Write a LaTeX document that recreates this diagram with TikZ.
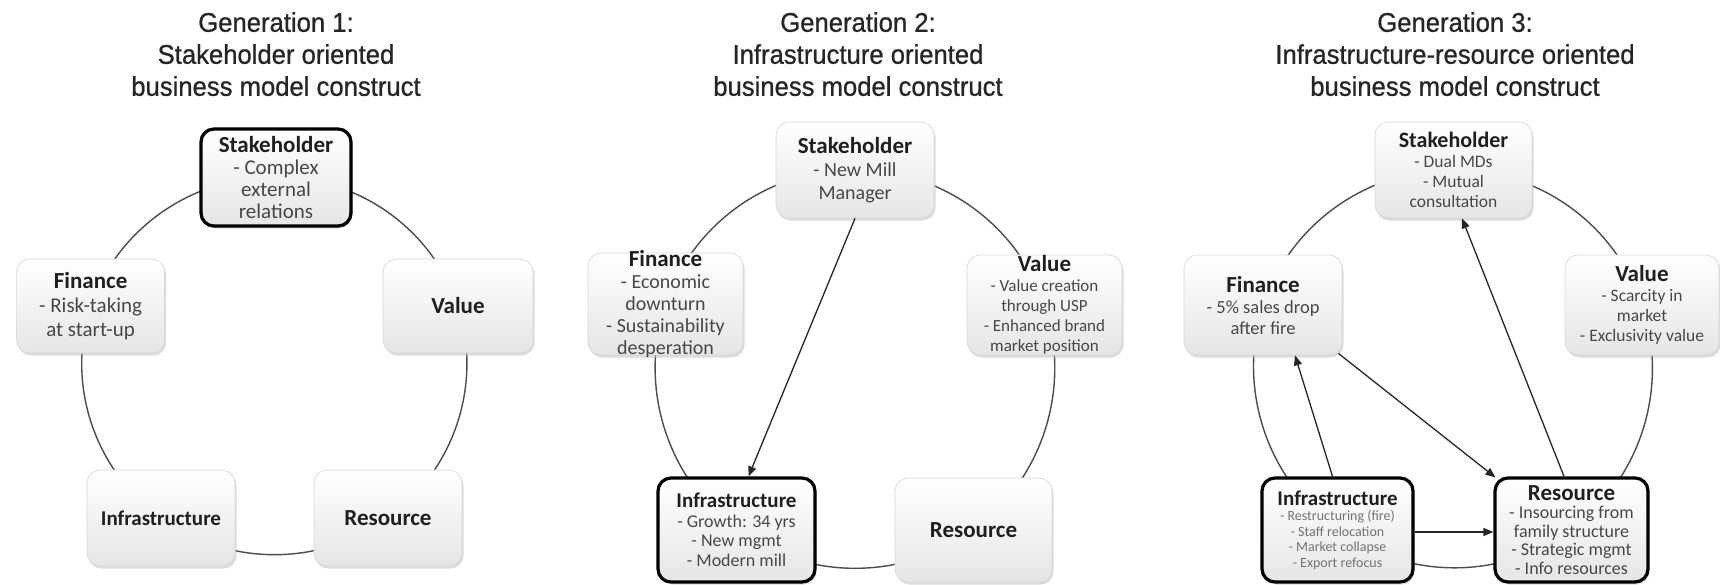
\documentclass[tikz,border=0pt]{standalone}
\usepackage{fontspec}
\setmainfont{Carlito}
\newfontfamily\titlefont[FakeStretch=0.95,FakeBold=0.8]{Liberation Sans}
\usetikzlibrary{shadows,backgrounds,arrows.meta}

\newcommand\bxhead[2]{{\fontsize{#1}{#1}\selectfont\bfseries\color{black!88}#2}}

\begin{document}
\begin{tikzpicture}[x=1pt,y=-1pt,
 box/.style={rectangle, rounded corners=13pt, draw=gray!30, line width=0.7pt,
   top color=white, bottom color=gray!20,
   drop shadow={shadow xshift=1.5pt, shadow yshift=-2.5pt, fill=gray!50, opacity=0.55},
   inner sep=0pt},
 keybox/.style={box, draw=black, line width=3.2pt},
 txt/.style={align=center, inner sep=0pt, text=black!72},
 ttl/.style={align=center, inner sep=0pt, anchor=north, text=black!85,
   font=\titlefont\fontsize{27}{32}\selectfont},
 ring/.style={draw=black!70, line width=1.4pt},
 arr/.style={draw=black!85, line width=1.3pt, -{Triangle[length=10pt,width=8pt]}},
]
\useasboundingbox (0,0) rectangle (1720,584);
\begin{scope}[on background layer]
\fill[white] (0,0) rectangle (1720,584);
\end{scope}

% ---------- Panel 1 ----------
\node[ttl] (t1) at (276,12) {Generation 1:\\Stakeholder oriented\\business model construct};
\node[keybox, minimum width=150pt, minimum height=97pt] (s1) at (276,177.5) {};
\node[txt, font=\fontsize{21}{22}\selectfont] (s1t) at (s1) {\bxhead{23}{Stakeholder}\\- Complex\\external\\relations};
\node[box, minimum width=148pt, minimum height=94pt] (f1) at (90.6,306) {};
\node[txt, font=\fontsize{21}{24}\selectfont] (f1t) at (f1) {\bxhead{23}{Finance}\\- Risk-taking\\at start-up};
\node[box, minimum width=150pt, minimum height=94pt] (v1) at (458,306) {};
\node[txt] (v1t) at (v1) {\bxhead{23}{Value}};
\node[box, minimum width=148pt, minimum height=96pt] (i1) at (161,518) {};
\node[txt] (i1t) at (i1) {\bxhead{21}{Infrastructure}};
\node[box, minimum width=148pt, minimum height=96pt] (r1) at (388,518) {};
\node[txt] (r1t) at (r1) {\bxhead{23}{Resource}};

% ---------- Panel 2 ----------
\node[ttl] (t2) at (858,12) {Generation 2:\\Infrastructure oriented\\business model construct};
\node[box, minimum width=158pt, minimum height=96pt] (s2) at (855,170) {};
\node[txt, font=\fontsize{20}{23}\selectfont] (s2t) at (s2) {\bxhead{23}{Stakeholder}\\- New Mill\\Manager};
\node[box, minimum width=155pt, minimum height=102pt] (f2) at (665.5,304) {};
\node[txt, font=\fontsize{20}{22}\selectfont] (f2t) at (f2) {\bxhead{23}{Finance}\\- Economic\\downturn\\- Sustainability\\desperation};
\node[box, minimum width=155pt, minimum height=100pt] (v2) at (1044.5,305) {};
\node[txt, font=\fontsize{17}{20}\selectfont] (v2t) at (v2) {\bxhead{23}{Value}\\- Value creation\\through USP\\- Enhanced brand\\market position};
\node[keybox, minimum width=157pt, minimum height=104pt] (i2) at (736.5,530) {};
\node[txt, font=\fontsize{18}{19.5}\selectfont] (i2t) at (i2) {\bxhead{21}{Infrastructure}\\- Growth: 34 yrs\\- New mgmt\\- Modern mill};
\node[box, minimum width=157pt, minimum height=104pt] (r2) at (973.5,530) {};
\node[txt] (r2t) at (r2) {\bxhead{23}{Resource}};

% ---------- Panel 3 ----------
\node[ttl] (t3) at (1455,12) {Generation 3:\\Infrastructure-resource oriented\\business model construct};
\node[box, minimum width=157pt, minimum height=96pt] (s3) at (1453.5,170) {};
\node[txt, font=\fontsize{17.5}{20}\selectfont] (s3t) at (s3) {\bxhead{22}{Stakeholder}\\- Dual MDs\\- Mutual\\consultation};
\node[box, minimum width=158pt, minimum height=100pt] (f3) at (1263,305) {};
\node[txt, font=\fontsize{18.5}{21}\selectfont] (f3t) at (f3) {\bxhead{23}{Finance}\\- 5\% sales drop\\after fire};
\node[box, minimum width=154pt, minimum height=100pt] (v3) at (1642,305) {};
\node[txt, font=\fontsize{17.5}{20}\selectfont] (v3t) at (v3) {\bxhead{23}{Value}\\- Scarcity in\\market\\- Exclusivity value};
\node[keybox, minimum width=151pt, minimum height=104pt] (i3) at (1337.5,530) {};
\node[txt, font=\fontsize{14}{15.5}\selectfont, text=black!55] (i3t) at (i3) {\bxhead{21}{Infrastructure}\\- Restructuring (fire)\\- Staff relocation\\- Market collapse\\- Export refocus};
\node[keybox, minimum width=153pt, minimum height=104pt] (r3) at (1571.5,530) {};
\node[txt, font=\fontsize{18}{18.5}\selectfont] (r3t) at (r3) {\bxhead{23}{Resource}\\- Insourcing from\\family structure\\- Strategic mgmt\\- Info resources};

% ---------- ring connectors ----------
\begin{scope}[on background layer]
\foreach \a/\b in {s1/f1,f1/i1,i1/r1,r1/v1,v1/s1,
                   s2/f2,f2/i2,i2/r2,r2/v2,v2/s2,
                   s3/f3,f3/i3,i3/r3,r3/v3,v3/s3}
  \draw[ring] (\a.center) to[bend right=36, looseness=0.94] (\b.center);
\end{scope}

% ---------- arrows ----------
\draw[arr] (s2.south) -- ([xshift=12pt]i2.north);
\draw[arr] ([xshift=-5pt]i3.north) -- ([xshift=32pt]f3.south);
\draw[arr] ([xshift=-4pt,yshift=2pt]f3.south east) -- ([xshift=2pt,yshift=-1pt]r3.north west);
\draw[arr] ([xshift=-7.5pt]r3.north) -- ([xshift=8.5pt]s3.south);
\draw[arr] ([yshift=-2pt]i3.east) -- ([yshift=-2pt]r3.west);
\end{tikzpicture}
\end{document}
